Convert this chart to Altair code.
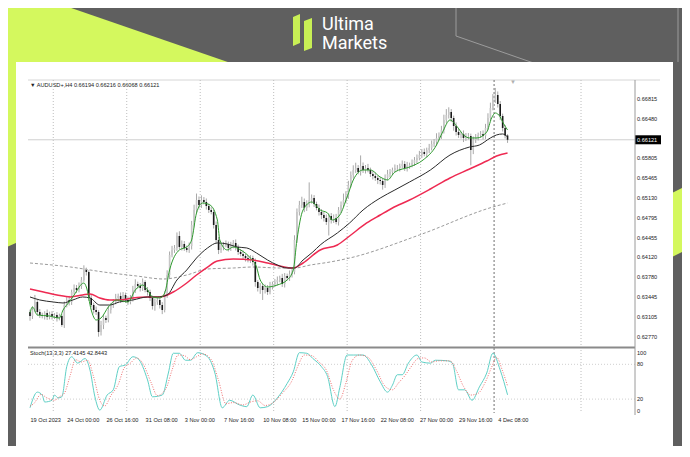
import altair as alt
import pandas as pd

# ---------------- data ----------------
FIRST_OPEN = 0.63190
CLOSE = [
    0.63122, 0.63224, 0.63361, 0.63190, 0.63139, 0.63122, 0.63173, 0.63105, 0.63156, 0.63122,
    0.63139, 0.63088, 0.63122, 0.62969, 0.63309, 0.63395, 0.63361, 0.63531, 0.63599, 0.63565,
    0.63633, 0.63735, 0.63905, 0.63871, 0.63429, 0.63309, 0.63224, 0.63190, 0.62850, 0.62969,
    0.63088, 0.63054, 0.63224, 0.63309, 0.63361, 0.63429, 0.63463, 0.63395, 0.63480, 0.63395,
    0.63361, 0.63429, 0.63565, 0.63667, 0.63633, 0.63599, 0.63701, 0.63565, 0.63531, 0.63429,
    0.63292, 0.63361, 0.63395, 0.63309, 0.63224, 0.63480, 0.63820, 0.64160, 0.64246, 0.64280,
    0.64484, 0.64297, 0.64348, 0.64280, 0.64246, 0.64314, 0.64671, 0.64926, 0.65096, 0.65011,
    0.65096, 0.65062, 0.64994, 0.64926, 0.64892, 0.64671, 0.64416, 0.64246, 0.64280, 0.64331,
    0.64348, 0.64280, 0.64314, 0.64365, 0.64297, 0.64212, 0.64177, 0.64143, 0.64109, 0.64075,
    0.64109, 0.64041, 0.63701, 0.63599, 0.63633, 0.63565, 0.63599, 0.63531, 0.63633, 0.63667,
    0.63701, 0.63735, 0.63769, 0.63667, 0.63803, 0.63769, 0.63837, 0.63871, 0.64416, 0.64892,
    0.65011, 0.65062, 0.64960, 0.65011, 0.65096, 0.65130, 0.65028, 0.64960, 0.64892, 0.64841,
    0.64790, 0.64722, 0.64824, 0.64756, 0.64790, 0.64722, 0.64926, 0.65011, 0.65096, 0.65165,
    0.65352, 0.65522, 0.65607, 0.65641, 0.65573, 0.65675, 0.65607, 0.65641, 0.65607, 0.65539,
    0.65505, 0.65471, 0.65437, 0.65420, 0.65352, 0.65471, 0.65539, 0.65573, 0.65607, 0.65641,
    0.65641, 0.65675, 0.65709, 0.65641, 0.65675, 0.65692, 0.65726, 0.65777, 0.65811, 0.65862,
    0.65913, 0.65879, 0.65947, 0.65981, 0.66049, 0.66083, 0.66152, 0.66186, 0.66288, 0.66458,
    0.66543, 0.66594, 0.66492, 0.66356, 0.66254, 0.66203, 0.66220, 0.66152, 0.66186, 0.66186,
    0.65947, 0.66117, 0.66169, 0.66203, 0.66220, 0.66186, 0.66322, 0.66492, 0.66662, 0.66798,
    0.66883, 0.66730, 0.66526, 0.66322, 0.66194, 0.66121,
]
UP_WICK = [  # pips above the body
    4, 6, 12, 3, 5, 4, 3, 6, 4, 5, 3, 5, 4, 3, 6, 5, 7, 4, 6, 5,
    6, 5, 8, 4, 3, 5, 4, 6, 3, 7, 5, 4, 6, 3, 5, 7, 4, 6, 5, 4,
    6, 5, 7, 8, 4, 5, 6, 3, 5, 4, 4, 6, 5, 3, 5, 7, 8, 6, 7, 5,
    6, 8, 6, 5, 4, 6, 7, 9, 11, 6, 8, 5, 6, 4, 5, 4, 6, 5, 7, 5,
    6, 4, 7, 5, 6, 4, 5, 6, 4, 5, 5, 4, 6, 3, 5, 4, 6, 5, 7, 4,
    5, 6, 4, 7, 5, 4, 6, 5, 8, 6, 7, 9, 6, 8, 30, 6, 5, 4, 6, 5,
    5, 6, 4, 5, 6, 7, 5, 6, 11, 8, 7, 6, 8, 9, 5, 18, 6, 5, 7, 4,
    5, 6, 4, 5, 4, 6, 7, 5, 4, 6, 5, 4, 6, 5, 7, 4, 6, 5, 6, 7,
    5, 6, 4, 7, 6, 5, 8, 6, 7, 9, 10, 8, 5, 4, 6, 5, 4, 6, 5, 5,
    4, 6, 5, 4, 5, 6, 7, 8, 9, 10, 12, 6, 5, 4, 5, 2.2,
]
LOW_WICK = [  # pips below the body
    8, 5, 4, 6, 5, 4, 6, 5, 4, 6, 5, 6, 4, 3, 5, 4, 6, 5, 4, 5,
    4, 5, 3, 6, 5, 4, 6, 5, 8, 6, 7, 5, 4, 6, 5, 4, 6, 5, 4, 5,
    5, 4, 6, 5, 4, 6, 5, 4, 6, 5, 6, 8, 5, 6, 7, 4, 5, 6, 4, 5,
    5, 4, 6, 5, 4, 5, 6, 4, 5, 6, 5, 4, 6, 5, 4, 6, 5, 7, 5, 4,
    4, 6, 5, 4, 6, 5, 4, 5, 6, 4, 5, 6, 8, 6, 10, 17, 6, 5, 4, 6,
    5, 6, 4, 5, 6, 4, 5, 6, 4, 5, 6, 5, 7, 5, 4, 6, 5, 4, 6, 7,
    6, 5, 23, 6, 5, 4, 6, 5, 4, 5, 5, 4, 6, 5, 4, 6, 5, 6, 4, 5,
    6, 5, 7, 6, 8, 5, 4, 6, 5, 4, 5, 6, 4, 5, 6, 5, 4, 5, 6, 4,
    5, 4, 6, 5, 4, 5, 6, 4, 5, 6, 5, 6, 7, 8, 6, 5, 6, 7, 5, 6,
    26, 7, 5, 6, 5, 6, 5, 4, 5, 4, 5, 6, 7, 6, 5, 5.3,
]

GREEN_BAR = [0, 1, 3, 8, 12, 13.5, 16, 18, 22, 23, 25, 27, 29, 32, 35.5, 40, 43, 46, 48, 50, 53, 55,
             57, 61, 64, 66, 68, 70.5, 73.5, 76.5, 77.5, 80.5, 83, 86, 90, 92.5, 94, 97, 101, 105,
             107.5, 109, 111.5, 115, 118.5, 121.5, 123.5, 126.5, 129.5, 132, 136, 139, 143, 146,
             149, 155, 160.5, 166, 168.5, 171.5, 174.5, 177, 179.5, 182.5, 186.5, 188.5, 190, 192,
             193, 195]
GREEN_VAL = [0.63173, 0.63276, 0.63139, 0.63122, 0.63088, 0.63224, 0.63361, 0.63480, 0.63684, 0.63616,
             0.63224, 0.63054, 0.63088, 0.63276, 0.63395, 0.63361, 0.63565, 0.63650, 0.63565, 0.63446,
             0.63429, 0.63514, 0.63905, 0.64246, 0.64297, 0.64416, 0.64875, 0.65045, 0.65011, 0.64756,
             0.64416, 0.64246, 0.64297, 0.64246, 0.64109, 0.63956, 0.63735, 0.63616, 0.63650, 0.63735,
             0.63905, 0.64416, 0.64926, 0.65062, 0.64926, 0.64875, 0.64756, 0.64841, 0.65147, 0.65437,
             0.65607, 0.65607, 0.65488, 0.65437, 0.65573, 0.65658, 0.65777, 0.66032, 0.66254, 0.66458,
             0.66339, 0.66203, 0.66152, 0.66152, 0.66254, 0.66492, 0.66577, 0.66509, 0.66424, 0.66288]

BLACK_BAR = [0, 4, 9.5, 13.5, 17.5, 21.5, 24.5, 28.5, 32.5, 36.5, 42, 48, 52, 56, 60, 64, 68, 72.5,
             76.5, 80.5, 84.5, 88.5, 92.5, 97, 101, 105, 108, 111.5, 115.5, 118.5, 125.5, 130.5, 136,
             143, 149, 155, 163.5, 171.5, 179.5, 183.5, 188, 190.5, 193, 195]
BLACK_VAL = [0.63446, 0.63395, 0.63361, 0.63344, 0.63395, 0.63446, 0.63429, 0.63309, 0.63309, 0.63361,
             0.63395, 0.63446, 0.63446, 0.63480, 0.63735, 0.63905, 0.64109, 0.64280, 0.64365, 0.64348,
             0.64297, 0.64280, 0.64194, 0.64075, 0.63990, 0.63939, 0.63939, 0.64075, 0.64212, 0.64331,
             0.64535, 0.64705, 0.64926, 0.65130, 0.65267, 0.65403, 0.65607, 0.65862, 0.65998, 0.66032,
             0.66152, 0.66203, 0.66220, 0.66169]

RED_BAR = [0, 5.5, 11, 16.5, 21.5, 24.5, 28.5, 32.5, 36.5, 42, 48, 53, 58.5, 64, 68, 72.5, 76.5, 83,
           91, 97, 102, 107.5, 111.5, 118.5, 125.5, 130.5, 137.5, 143, 148, 155, 163.5, 171.5, 179.5,
           186.5, 190.5, 195]
RED_VAL = [0.63582, 0.63531, 0.63480, 0.63446, 0.63480, 0.63497, 0.63429, 0.63395, 0.63395, 0.63429,
           0.63446, 0.63446, 0.63531, 0.63684, 0.63820, 0.63956, 0.64058, 0.64092, 0.64075, 0.64024,
           0.63973, 0.63939, 0.64024, 0.64246, 0.64331, 0.64484, 0.64705, 0.64841, 0.64960, 0.65096,
           0.65284, 0.65471, 0.65624, 0.65760, 0.65845, 0.65896]

GRAY_BAR = [0, 16.5, 30, 43.5, 54.5, 64, 72.5, 83, 91, 102, 108, 114.5, 122.5, 130.5, 159, 189, 195]
GRAY_VAL = [0.64024, 0.63956, 0.63871, 0.63803, 0.63752, 0.63820, 0.63922, 0.63939, 0.63956, 0.63939,
            0.63939, 0.63990, 0.64041, 0.64109, 0.64501, 0.64977, 0.65045]

STOCH_K_BAR = [0, 3, 5, 6, 9, 10, 11.5, 13, 15, 17, 19.5, 22.5, 24.5, 26.5, 28.5, 31.5, 34, 36.5, 39,
               42, 44, 48, 50, 54, 56.5, 58.5, 61, 63.5, 65.5, 68.5, 72.5, 75.5, 78.5, 81.5, 85.5, 88.5,
               91, 94, 97, 101, 105, 107.5, 110, 113, 115.5, 119, 121.5, 124.5, 126.5, 129.5, 132, 136,
               139.5, 143, 146, 148, 150, 152, 154.5, 158, 160, 163.5, 165.5, 170.5, 172.5, 175, 177.5,
               180.5, 183.5, 186.5, 189, 192, 195]
STOCH_K_VAL = [5, 32, 27, 15, 18, 27, 22, 24, 76, 93, 82, 90, 70, 24, 1, 27, 36, 76, 79,
               93, 90, 53, 24, 27, 65, 99, 99, 87, 87, 100, 93, 65, 5, 18, 10, 7,
               27, 5, 7, 22, 47, 67, 100, 99, 90, 76, 59, 7, 40, 96, 96, 96,
               79, 50, 32, 44, 62, 62, 82, 96, 84, 82, 87, 86, 82, 36, 36,
               18, 41, 65, 99, 70, 27.4145]
STOCH_D_BAR = [0, 1.5, 4.5, 7, 10, 12, 14, 16.5, 18.5, 21, 23.5, 26, 28.5, 30.5, 33, 36, 38.5, 41,
               43.5, 46, 49.5, 52, 55.5, 58, 60.5, 63, 65.5, 68, 70.5, 74, 77, 80, 83, 87, 90, 93, 96,
               99, 103, 107, 109.5, 112, 115, 118, 121, 124, 126.5, 129, 131.5, 134.5, 138, 141.5, 145,
               148, 150.5, 153, 155.5, 158.5, 161, 164, 167, 171.5, 174, 177, 180, 183, 186, 188.5,
               190.5, 193, 195]
STOCH_D_VAL = [8, 12, 28, 22, 18, 24, 30, 62, 88, 84, 87, 58, 18, 8, 26, 45, 74, 82,
               91, 82, 48, 26, 38, 70, 96, 95, 88, 93, 98, 88, 52, 12, 14, 10, 15, 17, 9,
               13, 30, 52, 78, 96, 95, 84, 70, 35, 20, 48, 86, 96, 92, 70, 42,
               36, 48, 60, 75, 90, 91, 84, 86, 86, 70, 42, 27, 30, 50, 75,
               92, 68, 42.8443]

PRICE_TICKS = ["0.66815", "0.66480", "0.65805", "0.65465", "0.65130", "0.64795",
               "0.64455", "0.64120", "0.63780", "0.63445", "0.63105", "0.62770"]
LAST_PRICE = "0.66121"
DATE_BARS = [0, 15, 31, 47, 63, 79, 95, 111, 127, 143, 159, 175, 191]
DATE_LABELS = ["19 Oct 2023", "24 Oct 00:00", "26 Oct 16:00", "31 Oct 08:00", "3 Nov 00:00",
               "7 Nov 16:00", "10 Nov 08:00", "15 Nov 00:00", "17 Nov 16:00", "22 Nov 08:00",
               "27 Nov 00:00", "29 Nov 16:00", "4 Dec 08:00"]
GRID_BARS = [9.5, 39.5, 69.5, 99.5, 129.5, 159.5, 225]
SEPARATOR_BAR = [189.5]
STOCH_LEVELS = [100, 80, 20, 0]
STOCH_DOTTED = [80, 20]
HEADER = "\u25bc  AUDUSD+,H4  0.66194 0.66216 0.66068 0.66121"
STOCH_HEADER = "Stoch(13,3,3) 27.4145 42.8443"

# ---------------- frames ----------------
opens = [FIRST_OPEN] + CLOSE[:-1]
rows = []
for i, (o, c, uw, lw) in enumerate(zip(opens, CLOSE, UP_WICK, LOW_WICK)):
    rows.append({"i": i, "o": o, "c": c,
                 "h": max(o, c) + uw / 10000.0, "l": min(o, c) - lw / 10000.0,
                 "d": "up" if c >= o else "down"})
candles = pd.DataFrame(rows)

FONT = "Liberation Sans"
XS = alt.Scale(domain=[0, 196], range=[22, 502], zero=False, nice=False)
PY = alt.Scale(domain=[0.62770, 0.66815], range=[328.7, 91], zero=False, nice=False)
SY = alt.Scale(domain=[0, 100], range=[402.7, 344.7], zero=False, nice=False)

one = pd.DataFrame({"k": [0]})


def shape(path, fill=None, stroke=None, sw=1.0):
    kw = dict(shape=path, size=4, opacity=1)
    if fill:
        kw.update(filled=True, fill=fill, strokeWidth=0)
    else:
        kw.update(filled=False, stroke=stroke, strokeWidth=sw, fillOpacity=0)
    return alt.Chart(one).mark_point(**kw).encode(x=alt.value(0), y=alt.value(0))


def hline(x1, x2, y, color, sw=1.0, dash=None):
    kw = dict(color=color, strokeWidth=sw)
    if dash:
        kw["strokeDash"] = dash
    return alt.Chart(one).mark_rule(**kw).encode(
        x=alt.value(x1), x2=alt.value(x2), y=alt.value(y))


def vline(x, y1, y2, color, sw=1.0):
    return alt.Chart(one).mark_rule(color=color, strokeWidth=sw).encode(
        x=alt.value(x), y=alt.value(y1), y2=alt.value(y2))


def label(txt, x, y, size=5.6, color="#222222", font=FONT, weight="normal", baseline="middle"):
    return alt.Chart(one).mark_text(text=txt, align="left", baseline=baseline, fontSize=size,
                                    font=font, color=color, fontWeight=weight).encode(
        x=alt.value(x), y=alt.value(y))


# ---------------- decorations (chart coords = page - 8) ----------------
LIME = "#d4f85e"
lime_left = shape("M-8,-8 L40,-8 L330,92 L-8,242 Z", fill=LIME)
lime_right = shape("M662,186 L682,176 L682,240 L662,250 Z", fill=LIME)
deco_lines = shape("M448,-8 L448,28 L540,60 M670,-8 L670,54", stroke="#9c9c9c", sw=1)
icon = shape("M285,9 L292,6 L292,35 L285,38 Z M296,13 L304,10 L304,40 L296,43 Z", fill="#c8ef55")
logo1 = label("Ultima", 314, 22, size=18, color="white", font="Roboto", baseline="alphabetic")
logo2 = label("Markets", 314, 41, size=18, color="white", font="Roboto", baseline="alphabetic")
panel = alt.Chart(one).mark_rect(color="white").encode(
    x=alt.value(8), x2=alt.value(665), y=alt.value(54), y2=alt.value(441))

top_line = hline(20, 652, 72, "#d6d6d6", 1)
bottom_main = hline(20, 627, 339.5, "#8a8a8a", 2)
right_axis = vline(627, 72, 407, "#9a9a9a", 1)
header = label(HEADER, 22, 76.5)
stoch_header = label(STOCH_HEADER, 22, 344.5)
shift_marker = label("\u25bc", 502, 73.5, size=6, color="#b0b0b0")

# ---------------- price panel ----------------
X = alt.X("i:Q", scale=XS, axis=None)

grid = alt.Chart(pd.DataFrame({"i": GRID_BARS})).mark_rule(
    color="#bdbdbd", strokeWidth=1, strokeDash=[1, 2]).encode(
    x=X, y=alt.value(72), y2=alt.value(405))
sep = alt.Chart(pd.DataFrame({"i": SEPARATOR_BAR})).mark_rule(
    color="#6e6e6e", strokeWidth=1, strokeDash=[2, 2]).encode(
    x=X, y=alt.value(72), y2=alt.value(405))

last_line = alt.Chart(pd.DataFrame({"p": [float(LAST_PRICE)]})).mark_rule(
    color="#cfcfcf", strokeWidth=1).encode(
    x=alt.value(20), x2=alt.value(627), y=alt.Y("p:Q", scale=PY, axis=None))

wicks = alt.Chart(candles).mark_rule(color="#a8a8a8", strokeWidth=1).encode(
    x=X, y=alt.Y("l:Q", scale=PY, axis=None), y2="h:Q")
bodies = alt.Chart(candles).mark_rule(strokeWidth=1.6).encode(
    x=X, y=alt.Y("o:Q", scale=PY, axis=None), y2="c:Q",
    color=alt.Color("d:N", scale=alt.Scale(domain=["up", "down"], range=["#c6c6c6", "#1a1a1a"]),
                    legend=None))


def ma(bars, vals, color, sw, dash=None):
    kw = dict(color=color, strokeWidth=sw, interpolate="monotone")
    if dash:
        kw["strokeDash"] = dash
    return alt.Chart(pd.DataFrame({"i": bars, "p": vals})).mark_line(**kw).encode(
        x=X, y=alt.Y("p:Q", scale=PY, axis=None))


gray_ma = ma(GRAY_BAR, GRAY_VAL, "#9a9a9a", 1, [3, 2])
red_ma = ma(RED_BAR, RED_VAL, "#ee2a52", 1.5)
black_ma = ma(BLACK_BAR, BLACK_VAL, "#2a2a2a", 1)
green_ma = ma(GREEN_BAR, GREEN_VAL, "#2f9b2f", 1)

price_labels = alt.Chart(pd.DataFrame({"t": PRICE_TICKS, "p": [float(t) for t in PRICE_TICKS]})).mark_text(
    align="left", baseline="middle", fontSize=5.6, font=FONT, color="#222222").encode(
    x=alt.value(629), y=alt.Y("p:Q", scale=PY, axis=None), text="t:N")
last_df = pd.DataFrame({"t": [LAST_PRICE], "p": [float(LAST_PRICE)]})
last_box = alt.Chart(last_df).mark_rect(color="#000000", yOffset=-4.5, y2Offset=4.5).encode(
    x=alt.value(627), x2=alt.value(653), y=alt.Y("p:Q", scale=PY, axis=None), y2="p:Q")
last_text = alt.Chart(last_df).mark_text(
    align="left", baseline="middle", fontSize=5.6, font=FONT, color="white").encode(
    x=alt.value(629), y=alt.Y("p:Q", scale=PY, axis=None), text="t:N")

price_panel = alt.layer(grid, sep, last_line, gray_ma, wicks, bodies, red_ma, black_ma, green_ma,
                        price_labels, last_box, last_text)

# ---------------- stochastic panel ----------------
levels = alt.Chart(pd.DataFrame({"v": STOCH_DOTTED})).mark_rule(
    color="#cfcfcf", strokeWidth=1, strokeDash=[1, 2]).encode(
    x=alt.value(20), x2=alt.value(627), y=alt.Y("v:Q", scale=SY, axis=None))
k_line = alt.Chart(pd.DataFrame({"i": STOCH_K_BAR, "v": STOCH_K_VAL})).mark_line(
    color="#5fd0c6", strokeWidth=1, interpolate="monotone").encode(
    x=X, y=alt.Y("v:Q", scale=SY, axis=None))
d_line = alt.Chart(pd.DataFrame({"i": STOCH_D_BAR, "v": STOCH_D_VAL})).mark_line(
    color="#f07070", strokeWidth=1, strokeDash=[1, 1.5], interpolate="monotone").encode(
    x=X, y=alt.Y("v:Q", scale=SY, axis=None))
level_labels = alt.Chart(pd.DataFrame({"v": STOCH_LEVELS, "t": [str(v) for v in STOCH_LEVELS]})).mark_text(
    align="left", baseline="middle", fontSize=5.6, font=FONT, color="#222222").encode(
    x=alt.value(629), y=alt.Y("v:Q", scale=SY, axis=None), text="t:N")
stoch_panel = alt.layer(levels, k_line, d_line, level_labels)

# ---------------- time axis ----------------
dates = alt.Chart(pd.DataFrame({"i": DATE_BARS, "t": DATE_LABELS})).mark_text(
    align="left", baseline="middle", fontSize=5.6, font=FONT, color="#222222", dx=0.5).encode(
    x=X, y=alt.value(412), text="t:N")

chart = alt.layer(
    lime_left, lime_right, deco_lines, icon, logo1, logo2, panel,
    top_line, header, stoch_header, shift_marker,
    price_panel, stoch_panel, bottom_main, right_axis, dates,
).resolve_scale(y="independent").properties(
    width=674, height=438, padding=0,
    autosize=alt.AutoSizeParams(type="none"),
    background="#5f5f5f",
).configure_view(stroke=None)

chart.save("out.html", embed_options={"renderer": "svg", "actions": False})
